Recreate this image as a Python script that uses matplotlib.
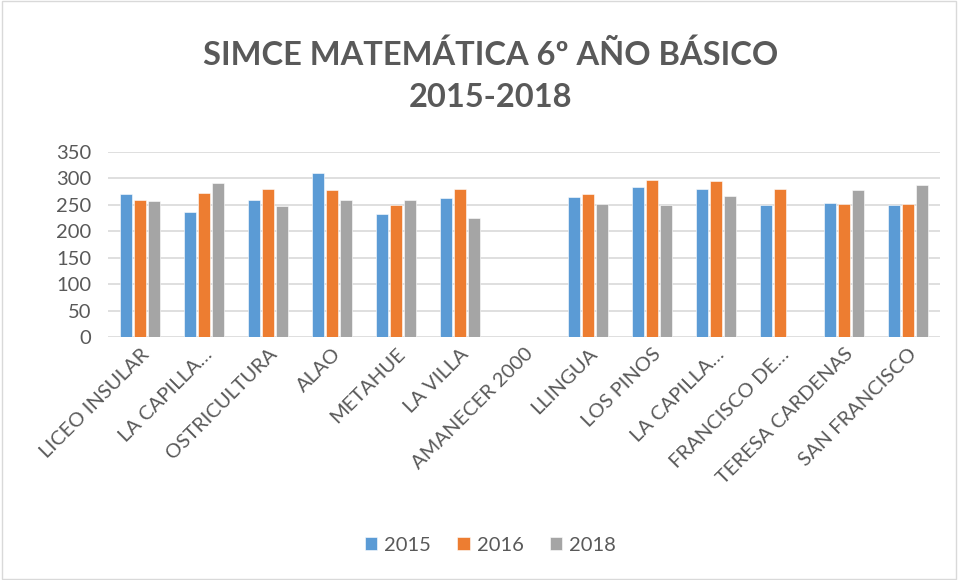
import numpy as np
import matplotlib
matplotlib.use("Agg")
import matplotlib.pyplot as plt

plt.rcParams['font.family'] = ['Lato', 'DejaVu Sans']

# Data
schools = ["LICEO INSULAR", "LA CAPILLA…", "OSTRICULTURA", "ALAO", "METAHUE",
           "LA VILLA", "AMANECER 2000", "LLINGUA", "LOS PINOS", "LA CAPILLA…",
           "FRANCISCO DE…", "TERESA CARDENAS", "SAN FRANCISCO"]
y2015 = [271, 236, 260, 311, 233, 263, np.nan, 265, 283, 280, 249, 253, 250]
y2016 = [259, 273, 280, 278, 250, 280, np.nan, 270, 297, 296, 280, 252, 252]
y2018 = [258, 291, 248, 260, 260, 226, np.nan, 252, 249, 267, np.nan, 279, 288]
years = ["2015", "2016", "2018"]
colors = ["#5b9bd5", "#ed7d31", "#a5a5a5"]

fig = plt.figure(figsize=(9.58, 5.8), dpi=100)
ax = fig.add_axes([108 / 958, 1 - 337 / 580, 832 / 958, 185 / 580])

x = np.arange(len(schools))
w = 0.175
step = 0.22
for i, (vals, lab, c) in enumerate(zip([y2015, y2016, y2018], years, colors)):
    ax.bar(x + (i - 1) * step, vals, width=w, color=c, label=lab,
           edgecolor="white", linewidth=0.4, zorder=3)

ax.set_ylim(0, 350)
ax.set_yticks(range(0, 351, 50))
ax.set_xlim(-0.5, len(schools) - 0.5)
ax.grid(axis="y", color="#d9d9d9", linewidth=1.2, zorder=0)
for s in ax.spines.values():
    s.set_visible(False)
ax.tick_params(axis="both", length=0, labelsize=14.5, labelcolor="#595959")
ax.tick_params(axis="y", pad=12)
ax.tick_params(axis="x", pad=6)
ax.set_xticks(x)
ax.set_xticklabels(schools, rotation=45, ha="right", rotation_mode="anchor")

fig.text(0.512, 0.905, "SIMCE MATEMÁTICA 6º AÑO BÁSICO", ha="center", va="center",
         fontsize=23.5, fontweight="bold", color="#595959")
fig.text(0.512, 0.832, "2015-2018", ha="center", va="center",
         fontsize=23.5, fontweight="bold", color="#595959")

fig.legend(loc="center", bbox_to_anchor=(0.512, 0.06), ncol=3, frameon=False,
           fontsize=14.5, labelcolor="#595959", handlelength=0.6, handleheight=0.6,
           handletextpad=0.35, columnspacing=1.3)

border = plt.Rectangle((0.002, 0.002), 0.996, 0.996, transform=fig.transFigure,
                       fill=False, edgecolor="#d9d9d9", linewidth=1)
fig.patches.append(border)

fig.savefig("out.png", dpi=100)
